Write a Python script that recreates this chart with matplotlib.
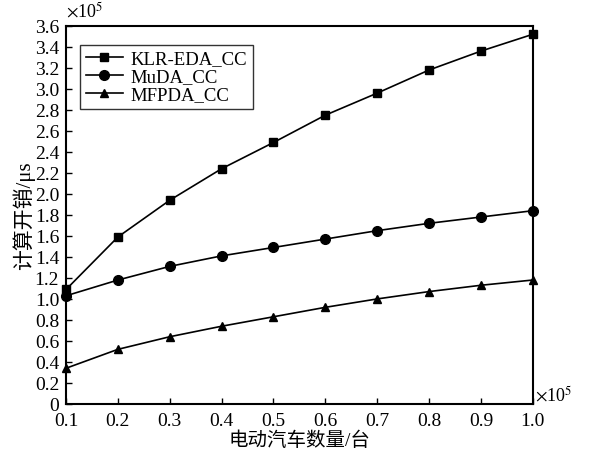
import numpy as np
import matplotlib.pyplot as plt

plt.rcParams['font.family'] = ['Liberation Serif', 'Noto Sans CJK SC']
plt.rcParams['mathtext.fontset'] = 'stix'

x = [0.1, 0.2, 0.3, 0.4, 0.5, 0.6, 0.7, 0.8, 0.9, 1.0]
klr = [1.09, 1.59, 1.94, 2.24, 2.49, 2.75, 2.96, 3.18, 3.36, 3.52]
muda = [1.03, 1.18, 1.31, 1.41, 1.49, 1.57, 1.65, 1.72, 1.78, 1.84]
mfpda = [0.34, 0.52, 0.64, 0.74, 0.83, 0.92, 1.00, 1.07, 1.13, 1.18]

fig = plt.figure(figsize=(5.9, 4.56), dpi=100)
ax = fig.add_axes([0.112, 0.112, 0.791, 0.829])

ax.plot(x, klr, '-s', color='black', lw=1.2, ms=6, label='KLR-EDA_CC', clip_on=False)
ax.plot(x, muda, '-o', color='black', lw=1.2, ms=7, label='MuDA_CC', clip_on=False)
ax.plot(x, mfpda, '-^', color='black', lw=1.2, ms=6, label='MFPDA_CC', clip_on=False)

ax.set_xlim(0.1, 1.0)
ax.set_ylim(0, 3.6)
ax.set_xticks(np.arange(0.1, 1.01, 0.1))
ax.set_xticklabels(['0.1', '0.2', '0.3', '0.4', '0.5', '0.6', '0.7', '0.8', '0.9', '1.0'])
ax.set_yticks(np.arange(0, 3.61, 0.2))
ax.set_yticklabels(['0'] + ['%.1f' % v for v in np.arange(0.2, 3.61, 0.2)])
ax.tick_params(direction='in', labelsize=14, top=False, right=False, length=4, width=1)
ax.tick_params(axis='x', pad=6)
ax.tick_params(axis='y', pad=5)
for s in ax.spines.values():
    s.set_linewidth(1.5)

ax.set_xlabel('电动汽车数量/台', fontsize=14, labelpad=1)
ax.set_ylabel('计算开销/μs', fontsize=15, labelpad=0)

ax.text(0.0, 1.015, r'$\times$10$^5$', transform=ax.transAxes, fontsize=13, ha='left', va='bottom')
ax.text(1.005, 0.0, r'$\times$10$^5$', transform=ax.transAxes, fontsize=13, ha='left', va='bottom')

leg = ax.legend(loc='upper left', fontsize=13.5, frameon=True, fancybox=False, edgecolor='black',
                handlelength=2.0, borderpad=0.3, labelspacing=0.05, handletextpad=0.4,
                bbox_to_anchor=(0.01, 0.975))
leg.get_frame().set_linewidth(1.0)

fig.savefig('out.png', dpi=100)
